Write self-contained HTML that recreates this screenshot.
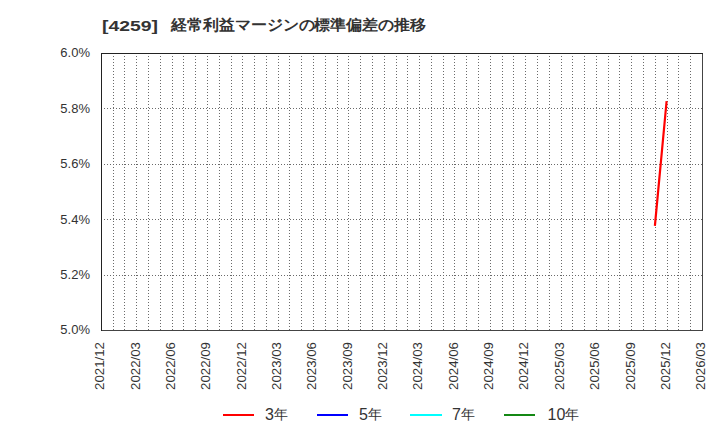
<!DOCTYPE html>
<html><head><meta charset="utf-8"><style>
html,body{margin:0;padding:0;background:#fff;width:720px;height:440px;overflow:hidden}
svg{display:block;font-family:"Liberation Sans",sans-serif}
</style></head><body>
<svg width="720" height="440" viewBox="0 0 720 440">
<rect width="720" height="440" fill="#fff"/>
<g font-weight="bold" fill="#333">
<text x="102" y="30.5" font-size="15" textLength="56" lengthAdjust="spacingAndGlyphs">[4259]</text>
<text x="171" y="30" font-size="15" textLength="255" lengthAdjust="spacingAndGlyphs">経常利益マージンの標準偏差の推移</text>
</g>
<g stroke="#6a6a6a" stroke-width="1" stroke-dasharray="1,2" stroke-dashoffset="1" shape-rendering="crispEdges"><line x1="113.5" y1="54" x2="113.5" y2="330" stroke-dashoffset="1"/><line x1="124.5" y1="54" x2="124.5" y2="330" stroke-dashoffset="1"/><line x1="136.5" y1="54" x2="136.5" y2="330" stroke-dashoffset="1"/><line x1="148.5" y1="54" x2="148.5" y2="330" stroke-dashoffset="1"/><line x1="160.5" y1="54" x2="160.5" y2="330" stroke-dashoffset="1"/><line x1="172.5" y1="54" x2="172.5" y2="330" stroke-dashoffset="1"/><line x1="183.5" y1="54" x2="183.5" y2="330" stroke-dashoffset="1"/><line x1="195.5" y1="54" x2="195.5" y2="330" stroke-dashoffset="1"/><line x1="207.5" y1="54" x2="207.5" y2="330" stroke-dashoffset="1"/><line x1="219.5" y1="54" x2="219.5" y2="330" stroke-dashoffset="1"/><line x1="231.5" y1="54" x2="231.5" y2="330" stroke-dashoffset="1"/><line x1="242.5" y1="54" x2="242.5" y2="330" stroke-dashoffset="1"/><line x1="254.5" y1="54" x2="254.5" y2="330" stroke-dashoffset="1"/><line x1="266.5" y1="54" x2="266.5" y2="330" stroke-dashoffset="1"/><line x1="278.5" y1="54" x2="278.5" y2="330" stroke-dashoffset="1"/><line x1="289.5" y1="54" x2="289.5" y2="330" stroke-dashoffset="1"/><line x1="301.5" y1="54" x2="301.5" y2="330" stroke-dashoffset="1"/><line x1="313.5" y1="54" x2="313.5" y2="330" stroke-dashoffset="1"/><line x1="325.5" y1="54" x2="325.5" y2="330" stroke-dashoffset="1"/><line x1="337.5" y1="54" x2="337.5" y2="330" stroke-dashoffset="1"/><line x1="348.5" y1="54" x2="348.5" y2="330" stroke-dashoffset="1"/><line x1="360.5" y1="54" x2="360.5" y2="330" stroke-dashoffset="1"/><line x1="372.5" y1="54" x2="372.5" y2="330" stroke-dashoffset="1"/><line x1="384.5" y1="54" x2="384.5" y2="330" stroke-dashoffset="1"/><line x1="396.5" y1="54" x2="396.5" y2="330" stroke-dashoffset="1"/><line x1="407.5" y1="54" x2="407.5" y2="330" stroke-dashoffset="1"/><line x1="419.5" y1="54" x2="419.5" y2="330" stroke-dashoffset="1"/><line x1="431.5" y1="54" x2="431.5" y2="330" stroke-dashoffset="1"/><line x1="443.5" y1="54" x2="443.5" y2="330" stroke-dashoffset="1"/><line x1="454.5" y1="54" x2="454.5" y2="330" stroke-dashoffset="1"/><line x1="466.5" y1="54" x2="466.5" y2="330" stroke-dashoffset="1"/><line x1="478.5" y1="54" x2="478.5" y2="330" stroke-dashoffset="1"/><line x1="490.5" y1="54" x2="490.5" y2="330" stroke-dashoffset="1"/><line x1="502.5" y1="54" x2="502.5" y2="330" stroke-dashoffset="1"/><line x1="513.5" y1="54" x2="513.5" y2="330" stroke-dashoffset="1"/><line x1="525.5" y1="54" x2="525.5" y2="330" stroke-dashoffset="1"/><line x1="537.5" y1="54" x2="537.5" y2="330" stroke-dashoffset="1"/><line x1="549.5" y1="54" x2="549.5" y2="330" stroke-dashoffset="1"/><line x1="561.5" y1="54" x2="561.5" y2="330" stroke-dashoffset="1"/><line x1="572.5" y1="54" x2="572.5" y2="330" stroke-dashoffset="1"/><line x1="584.5" y1="54" x2="584.5" y2="330" stroke-dashoffset="1"/><line x1="596.5" y1="54" x2="596.5" y2="330" stroke-dashoffset="1"/><line x1="608.5" y1="54" x2="608.5" y2="330" stroke-dashoffset="1"/><line x1="619.5" y1="54" x2="619.5" y2="330" stroke-dashoffset="1"/><line x1="631.5" y1="54" x2="631.5" y2="330" stroke-dashoffset="1"/><line x1="643.5" y1="54" x2="643.5" y2="330" stroke-dashoffset="1"/><line x1="655.5" y1="54" x2="655.5" y2="330" stroke-dashoffset="1"/><line x1="667.5" y1="54" x2="667.5" y2="330" stroke-dashoffset="1"/><line x1="678.5" y1="54" x2="678.5" y2="330" stroke-dashoffset="1"/><line x1="690.5" y1="54" x2="690.5" y2="330" stroke-dashoffset="1"/><line x1="102" y1="275.5" x2="702" y2="275.5"/><line x1="102" y1="219.5" x2="702" y2="219.5"/><line x1="102" y1="164.5" x2="702" y2="164.5"/><line x1="102" y1="108.5" x2="702" y2="108.5"/></g>
<g shape-rendering="crispEdges" stroke-width="1">
<line x1="101" y1="330.5" x2="703" y2="330.5" stroke="#444"/>
<line x1="702.5" y1="53" x2="702.5" y2="331" stroke="#444"/>
<line x1="101" y1="53.5" x2="703" y2="53.5" stroke="#222"/>
<line x1="101.5" y1="53" x2="101.5" y2="331" stroke="#222"/>
</g>
<line x1="654.9" y1="225.8" x2="666.6" y2="101.2" stroke="#ff0000" stroke-width="2.2"/>
<g font-size="13" fill="#333"><text x="90" y="333.7" text-anchor="end">5.0%</text><text x="90" y="279.3" text-anchor="end">5.2%</text><text x="90" y="223.9" text-anchor="end">5.4%</text><text x="90" y="167.5" text-anchor="end">5.6%</text><text x="90" y="113.1" text-anchor="end">5.8%</text><text x="90" y="56.7" text-anchor="end">6.0%</text></g>
<g font-size="13" fill="#333"><text transform="translate(104.2,342) rotate(-90)" text-anchor="end" textLength="48" lengthAdjust="spacingAndGlyphs">2021/12</text><text transform="translate(139.6,342) rotate(-90)" text-anchor="end" textLength="48" lengthAdjust="spacingAndGlyphs">2022/03</text><text transform="translate(174.9,342) rotate(-90)" text-anchor="end" textLength="48" lengthAdjust="spacingAndGlyphs">2022/06</text><text transform="translate(210.3,342) rotate(-90)" text-anchor="end" textLength="48" lengthAdjust="spacingAndGlyphs">2022/09</text><text transform="translate(245.6,342) rotate(-90)" text-anchor="end" textLength="48" lengthAdjust="spacingAndGlyphs">2022/12</text><text transform="translate(281.0,342) rotate(-90)" text-anchor="end" textLength="48" lengthAdjust="spacingAndGlyphs">2023/03</text><text transform="translate(316.3,342) rotate(-90)" text-anchor="end" textLength="48" lengthAdjust="spacingAndGlyphs">2023/06</text><text transform="translate(351.7,342) rotate(-90)" text-anchor="end" textLength="48" lengthAdjust="spacingAndGlyphs">2023/09</text><text transform="translate(387.0,342) rotate(-90)" text-anchor="end" textLength="48" lengthAdjust="spacingAndGlyphs">2023/12</text><text transform="translate(422.4,342) rotate(-90)" text-anchor="end" textLength="48" lengthAdjust="spacingAndGlyphs">2024/03</text><text transform="translate(457.7,342) rotate(-90)" text-anchor="end" textLength="48" lengthAdjust="spacingAndGlyphs">2024/06</text><text transform="translate(493.1,342) rotate(-90)" text-anchor="end" textLength="48" lengthAdjust="spacingAndGlyphs">2024/09</text><text transform="translate(528.4,342) rotate(-90)" text-anchor="end" textLength="48" lengthAdjust="spacingAndGlyphs">2024/12</text><text transform="translate(563.8,342) rotate(-90)" text-anchor="end" textLength="48" lengthAdjust="spacingAndGlyphs">2025/03</text><text transform="translate(599.1,342) rotate(-90)" text-anchor="end" textLength="48" lengthAdjust="spacingAndGlyphs">2025/06</text><text transform="translate(634.5,342) rotate(-90)" text-anchor="end" textLength="48" lengthAdjust="spacingAndGlyphs">2025/09</text><text transform="translate(669.8,342) rotate(-90)" text-anchor="end" textLength="48" lengthAdjust="spacingAndGlyphs">2025/12</text><text transform="translate(705.2,342) rotate(-90)" text-anchor="end" textLength="48" lengthAdjust="spacingAndGlyphs">2026/03</text></g>
<g fill="#333"><line x1="223" y1="415" x2="254" y2="415" stroke="#ff0000" stroke-width="2"/><text x="265" y="419.7"><tspan font-size="16">3</tspan><tspan font-size="14" dy="-0.6">年</tspan></text><line x1="317" y1="415" x2="348" y2="415" stroke="#0000ff" stroke-width="2"/><text x="359" y="419.7"><tspan font-size="16">5</tspan><tspan font-size="14" dy="-0.6">年</tspan></text><line x1="410" y1="415" x2="442" y2="415" stroke="#00ffff" stroke-width="2"/><text x="452" y="419.7"><tspan font-size="16">7</tspan><tspan font-size="14" dy="-0.6">年</tspan></text><line x1="504" y1="415" x2="535" y2="415" stroke="rgb(20,136,20)" stroke-width="2"/><text x="547.5" y="419.7"><tspan font-size="16">10</tspan><tspan font-size="14" dy="-0.6">年</tspan></text></g>
</svg>
</body></html>
